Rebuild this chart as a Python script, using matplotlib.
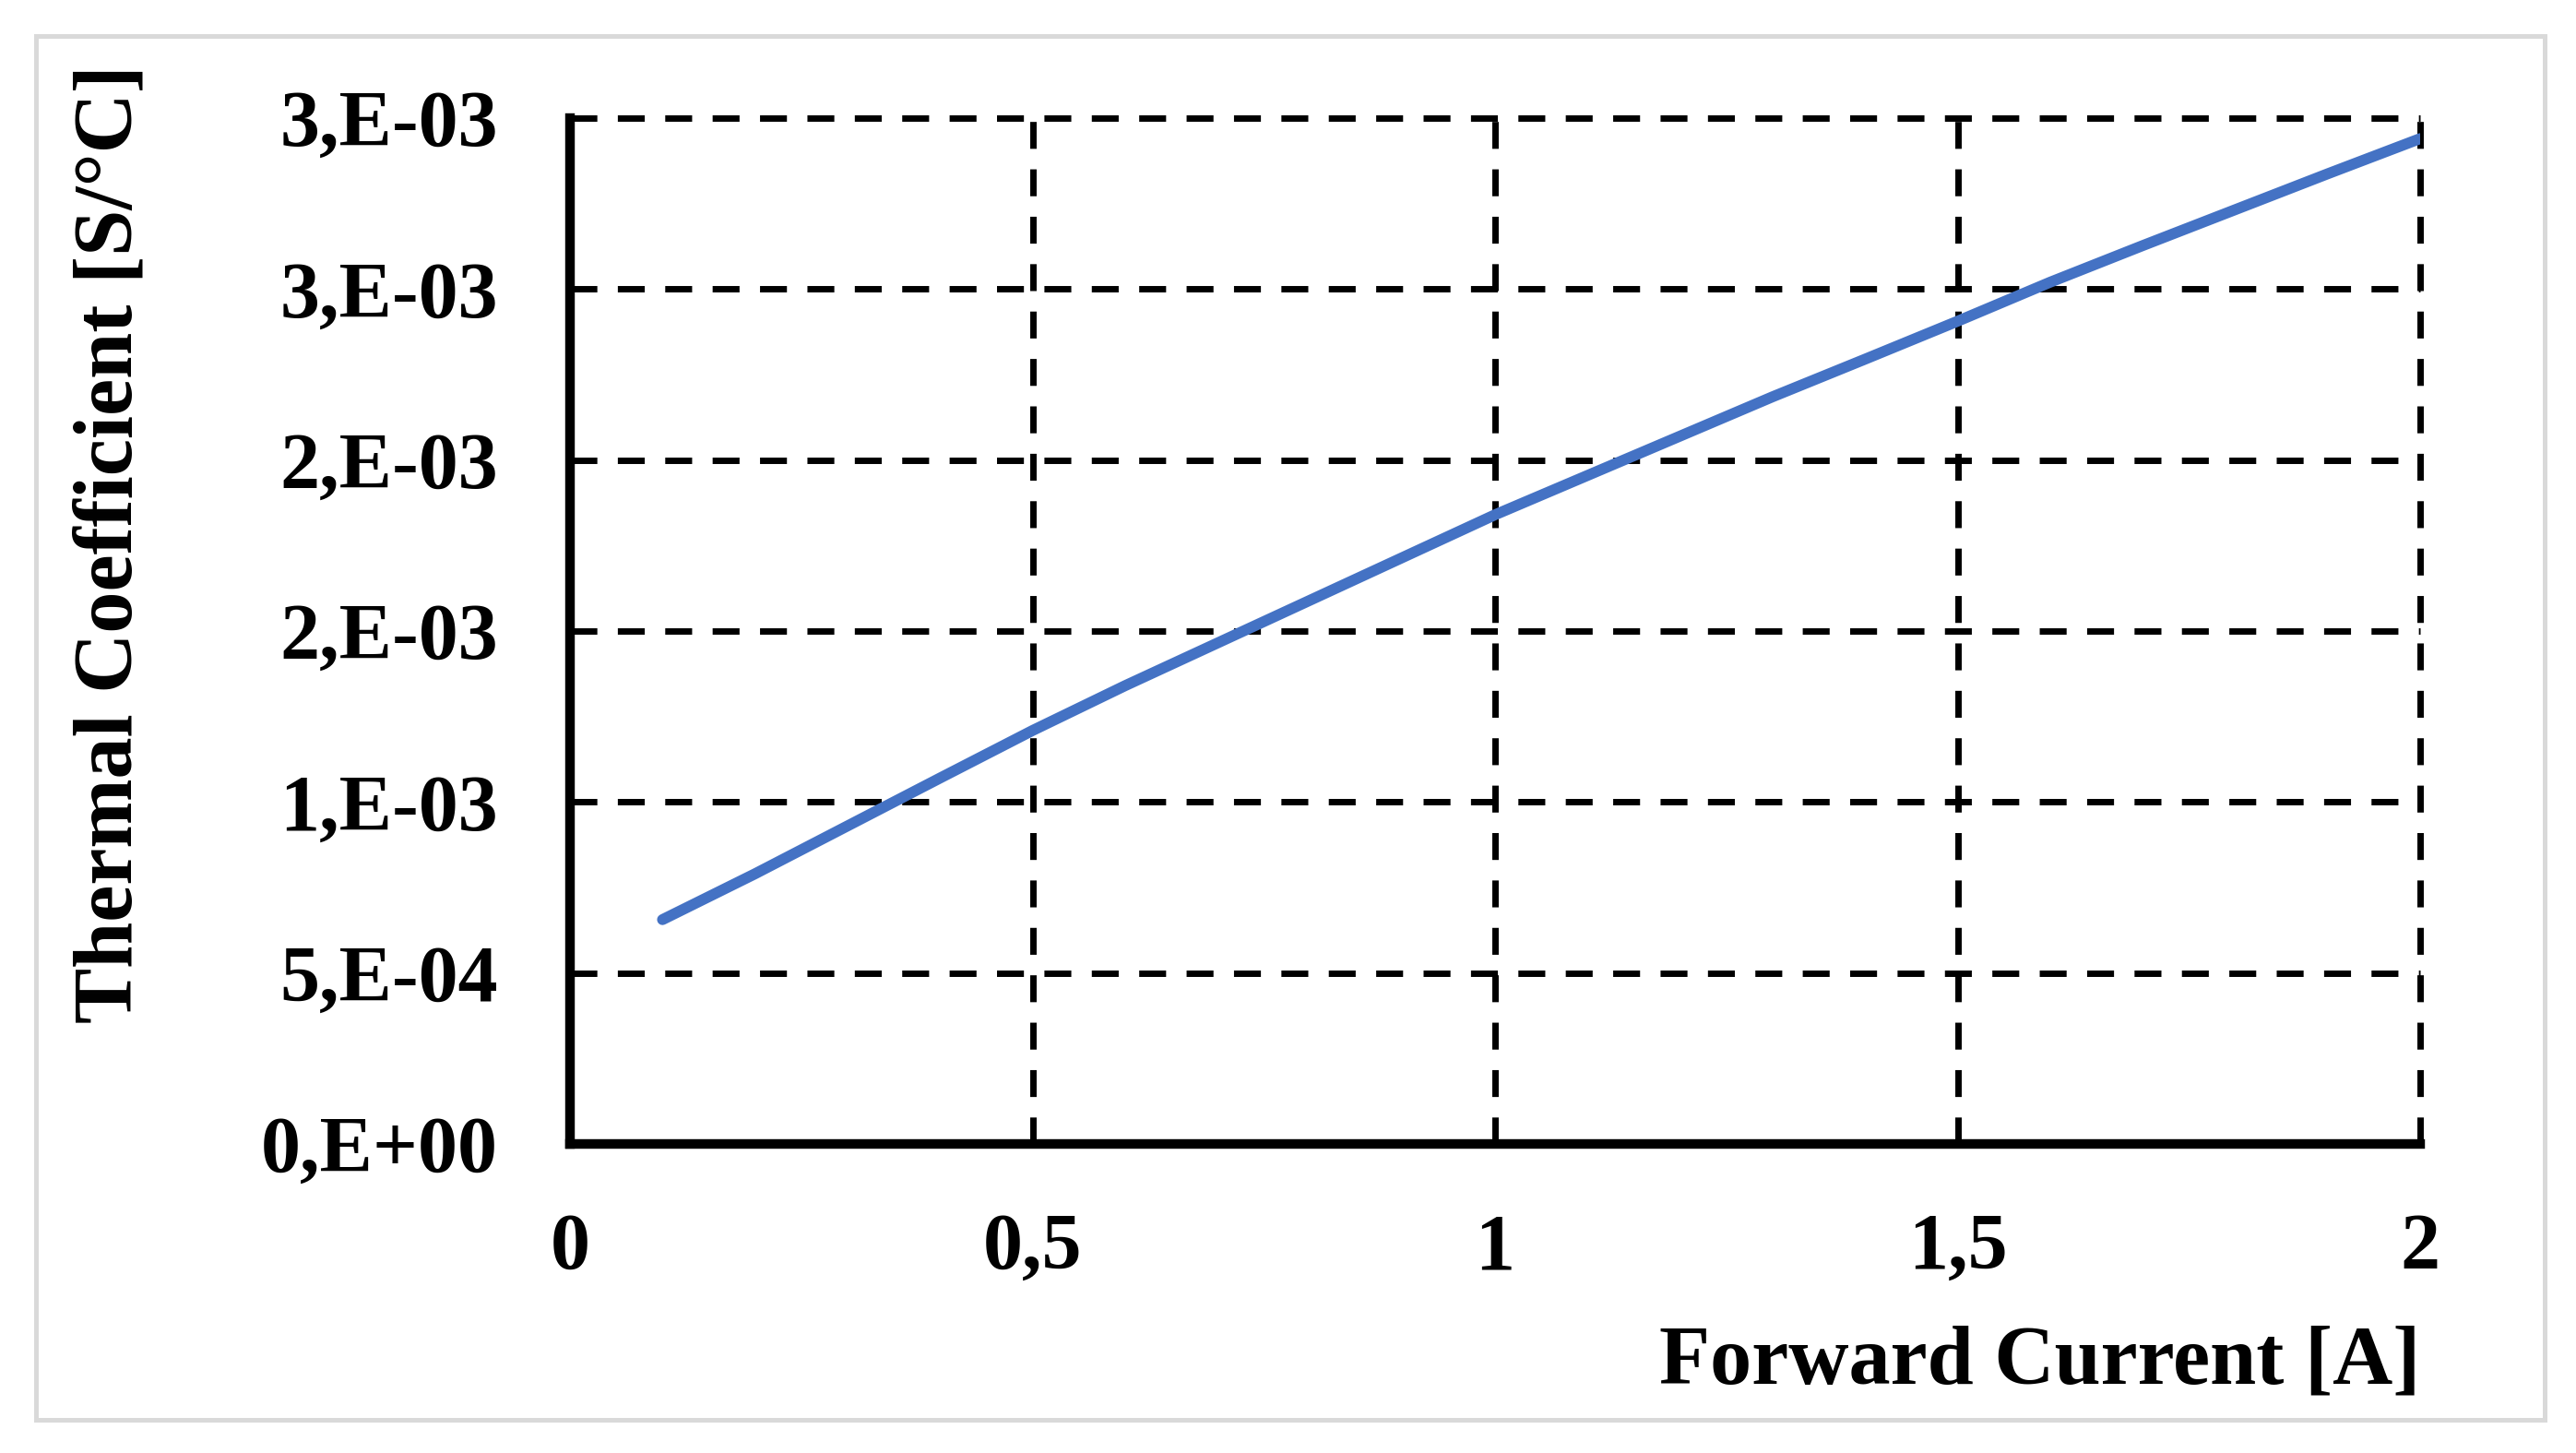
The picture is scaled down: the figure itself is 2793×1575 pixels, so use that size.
import matplotlib
matplotlib.use('Agg')
import matplotlib.pyplot as plt
from matplotlib.patches import Rectangle

# forward current [A] and thermal coefficient [S/°C]
current = [0.1, 0.2, 0.3, 0.4, 0.5, 0.6, 0.7, 0.8, 0.9, 1.0,
           1.1, 1.2, 1.3, 1.4, 1.5, 1.6, 1.7, 1.8, 1.9, 2.0]
coeff = [0.656e-3, 0.79e-3, 0.93e-3, 1.07e-3, 1.209e-3, 1.34e-3, 1.465e-3, 1.59e-3, 1.715e-3, 1.84e-3,
         1.955e-3, 2.07e-3, 2.185e-3, 2.295e-3, 2.406e-3, 2.52e-3, 2.627e-3, 2.732e-3, 2.837e-3, 2.94e-3]

x_ticks = [0, 0.5, 1, 1.5, 2]
x_labels = ["0", "0,5", "1", "1,5", "2"]
y_ticks = [0, 0.5e-3, 1e-3, 1.5e-3, 2e-3, 2.5e-3, 3e-3]
y_labels = ["0,E+00", "5,E-04", "1,E-03", "2,E-03", "2,E-03", "3,E-03", "3,E-03"]

plt.rcParams['font.family'] = ['Liberation Serif', 'DejaVu Serif']
plt.rcParams['font.weight'] = 'bold'

W, H = 2793, 1575
fig = plt.figure(figsize=(W / 100.0, H / 100.0), dpi=100)
ax = fig.add_axes([618.0 / W, 1 - 1240.0 / H, (2624 - 618.0) / W, (1240 - 128.0) / H])

ax.plot(current, coeff, color='#4472C4', lw=8.5, solid_capstyle='round', zorder=3)

ax.set_xlim(0, 2)
ax.set_ylim(0, 3e-3)
ax.set_xticks(x_ticks)
ax.set_xticklabels(x_labels)
ax.set_yticks(y_ticks)
ax.set_yticklabels(y_labels)
ax.tick_params(axis='both', length=0)
ax.tick_params(axis='x', pad=54, labelsize=62)
ax.tick_params(axis='y', pad=56, labelsize=62)

ax.grid(True, color='black', lw=5, linestyle=(0, (4.2, 3.2)))
for gl in ax.get_xgridlines() + ax.get_ygridlines():
    gl.set_clip_on(False)

for s in ['top', 'right']:
    ax.spines[s].set_visible(False)
for s in ['left', 'bottom']:
    ax.spines[s].set_linewidth(7.5)
    ax.spines[s].set_color('black')
    ax.spines[s].set_zorder(4)

ax.set_xlabel("Forward Current [A]", fontsize=65, fontweight='bold', ha='right', va='center')
ax.xaxis.set_label_coords(1.0, -0.214)
ax.set_ylabel("Thermal Coefficient [S/°C]", fontsize=65, fontweight='bold', ha='center', va='center')
ax.yaxis.set_label_coords(-0.2478, 0.5845)

# light grey frame around the whole picture
fig.patches.append(Rectangle((39.0 / W, 36.0 / H), (2759 - 39.0) / W, (1539 - 39.0) / H,
                             transform=fig.transFigure, fill=False, edgecolor='#d9d9d9', lw=3.6))

plt.savefig("out.png", dpi=100)
